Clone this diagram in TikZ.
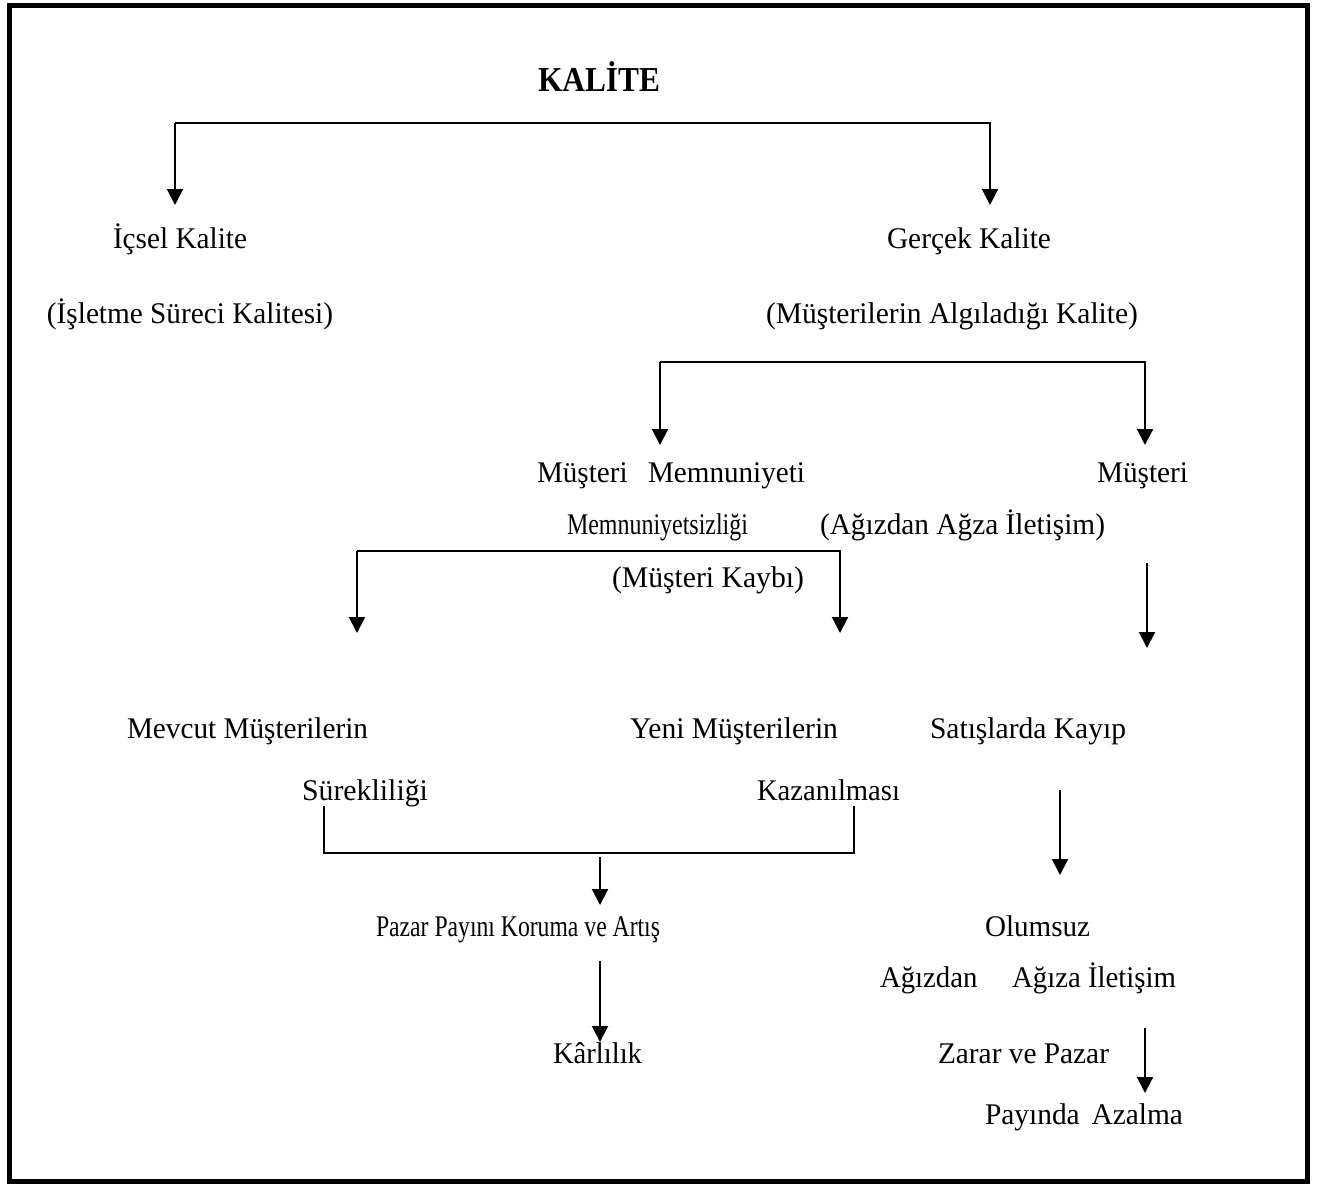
\documentclass[tikz,border=0pt]{standalone}
\usepackage{fontspec}
\setmainfont{Liberation Serif}
\usepackage{graphicx}
\usetikzlibrary{arrows.meta}

% set a label at a given printed width (horizontal scaling only)
\newlength\labw
\newcommand\fitw[2]{\settowidth\labw{#2}\pgfmathsetmacro\labfac{#1/\labw}\scalebox{\labfac}[1]{#2}}

\tikzset{
  lbl/.style={font=\fontsize{30}{34}\selectfont, inner sep=0pt, anchor=base},
  ttl/.style={font=\fontsize{35}{40}\selectfont\bfseries, inner sep=0pt, anchor=base},
  link/.style={line width=2pt, line join=miter},
  arr/.style={link, -{Triangle[width=16pt,length=16pt]}},
}

\begin{document}
\begin{tikzpicture}[x=1pt,y=-1pt]
\useasboundingbox (0,0) rectangle (1317,1187);
\draw[line width=5pt] (9.5,5) rectangle (1307,1181);

% labels
\node[ttl] (kal) at (599,91) {\fitw{122}{KALİTE}};
\node[lbl] (ic)  at (180,248) {\fitw{134}{İçsel Kalite}};
\node[lbl] (ic2) at (190,323) {\fitw{286}{(İşletme Süreci Kalitesi)}};
\node[lbl] (ger) at (969,248) {\fitw{164}{Gerçek Kalite}};
\node[lbl] (ger2) at (952,323) {\fitw{372}{(Müşterilerin Algıladığı Kalite)}};
\node[lbl] (mm)  at (671,482) {\fitw{268}{Müşteri\hspace{0.7em}Memnuniyeti}};
\node[lbl] (mus) at (1142.5,482) {\fitw{91}{Müşteri}};
\node[lbl] (mms) at (657.5,534) {\fitw{181}{Memnuniyetsizliği}};
\node[lbl] (aai) at (962.5,534) {\fitw{285}{(Ağızdan Ağza İletişim)}};
\node[lbl] (mk)  at (708,587) {\fitw{192}{(Müşteri Kaybı)}};
\node[lbl] (mev) at (247.5,738) {\fitw{241}{Mevcut Müşterilerin}};
\node[lbl] (yen) at (734,738) {\fitw{208}{Yeni Müşterilerin}};
\node[lbl] (sat) at (1028,738) {\fitw{196}{Satışlarda Kayıp}};
\node[lbl] (sur) at (365,800) {\fitw{126}{Sürekliliği}};
\node[lbl] (kaz) at (828.5,800) {\fitw{143}{Kazanılması}};
\node[lbl] (paz) at (518,936) {\fitw{284}{Pazar Payını Koruma ve Artış}};
\node[lbl] (olu) at (1037.5,936) {\fitw{105}{Olumsuz}};
\node[lbl] (agz) at (1028,987) {\fitw{296}{Ağızdan\hspace{1.2em}Ağıza İletişim}};
\node[lbl] (kar) at (597.5,1063) {\fitw{89}{Kârlılık}};
\node[lbl] (zar) at (1023.5,1063) {\fitw{171}{Zarar ve Pazar}};
\node[lbl] (pay) at (1084,1124) {\fitw{198}{Payında\hspace{0.4em}Azalma}};

% branch points and arrow ends
\coordinate (t1) at (175,123);  \coordinate (t2) at (990,123);
\coordinate (t1e) at (175,205); \coordinate (t2e) at (990,205);
\coordinate (s1) at (660,362);  \coordinate (s2) at (1145,362);
\coordinate (s1e) at (660,445); \coordinate (s2e) at (1145,445);
\coordinate (u1) at (357,551);  \coordinate (u2) at (840,551);
\coordinate (u1e) at (357,633); \coordinate (u2e) at (840,633);
\coordinate (r1) at (1147,563); \coordinate (r1e) at (1147,648);
\coordinate (r2) at (1060,790); \coordinate (r2e) at (1060,875);
\coordinate (r3) at (1145,1028); \coordinate (r3e) at (1145,1093);
\coordinate (j1) at (324,806);  \coordinate (j1b) at (324,853);
\coordinate (j2) at (854,806);  \coordinate (j2b) at (854,853);
\coordinate (m1) at (600,857);  \coordinate (m1e) at (600,905);
\coordinate (m2) at (600,961);  \coordinate (m2e) at (600,1042);

% top split
\draw[arr] (t1) -- (t1e);
\draw[arr] (t1) -- (t2) -- (t2e);
% customer split
\draw[arr] (s1) -- (s1e);
\draw[arr] (s1) -- (s2) -- (s2e);
% satisfaction split
\draw[arr] (u1) -- (u1e);
\draw[arr] (u1) -- (u2) -- (u2e);
% right-hand chain
\draw[arr] (r1) -- (r1e);
\draw[arr] (r2) -- (r2e);
\draw[arr] (r3) -- (r3e);
% join into market share
\draw[link] (j1) -- (j1b) -- (j2b) -- (j2);
\draw[arr] (m1) -- (m1e);
\draw[arr] (m2) -- (m2e);
\end{tikzpicture}
\end{document}
